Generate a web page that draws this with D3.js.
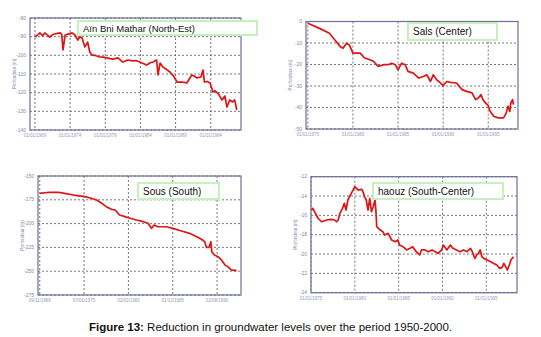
<!DOCTYPE html>
<html>
<head>
<meta charset="utf-8">
<script src="https://cdn.jsdelivr.net/npm/d3@7"></script>
<style>
  body { margin: 0; background: #fff; }
  svg { display: block; }
</style>
</head>
<body>
<script>
const W = 541, H = 337;

// --- Aïn Bni Mathar (North-Est) ---
const ainYears  = [1969.0, 1969.4, 1969.7, 1970.1, 1970.4, 1970.8, 1971.1, 1971.5, 1971.8, 1972.2, 1972.6, 1972.8, 1973.0, 1973.3, 1973.8, 1974.3, 1974.7, 1975.1, 1975.4, 1975.7, 1976.1, 1976.5, 1976.8, 1977.1, 1977.7, 1978.2, 1978.7, 1979.2, 1979.7, 1980.1, 1980.8, 1981.5, 1982.2, 1982.9, 1983.4, 1983.9, 1984.4, 1984.9, 1985.4, 1985.8, 1986.3, 1986.5, 1986.8, 1987.2, 1987.7, 1988.2, 1988.7, 1989.2, 1989.9, 1990.6, 1991.3, 1991.7, 1992.0, 1992.6, 1992.9, 1993.1, 1993.5, 1993.9, 1994.3, 1994.6, 1995.0, 1995.3, 1995.6, 1996.0, 1996.3, 1996.7, 1997.1, 1997.4, 1997.7];
const ainLevels = [-90.2, -89.0, -88.0, -89.5, -88.0, -89.2, -90.2, -89.0, -88.6, -88.2, -88.0, -88.6, -97.1, -89.1, -88.5, -88.0, -89.1, -91.8, -90.0, -90.7, -95.5, -92.9, -98.2, -99.8, -100.2, -100.9, -101.0, -101.4, -101.8, -102.0, -101.4, -103.6, -102.5, -103.0, -102.8, -103.6, -104.4, -105.2, -104.0, -103.6, -102.5, -110.5, -104.1, -106.3, -107.5, -108.9, -111.0, -114.3, -114.3, -114.8, -110.5, -111.2, -112.1, -111.6, -107.9, -114.3, -114.0, -114.8, -119.6, -119.0, -120.2, -122.0, -123.9, -121.8, -127.7, -123.9, -125.0, -123.9, -129.3];
const ainYTicks = [-80, -90, -100, -110, -120, -130, -140];
const ainXTicks = [1969, 1974, 1979, 1984, 1989, 1994];
const ainXLabels = ["01/01/1969", "01/01/1974", "01/01/1979", "01/01/1984", "01/01/1989", "01/01/1994"];

// --- Sals (Center) ---
const saisYears  = [1975.0, 1976.3, 1977.4, 1978.0, 1978.6, 1978.9, 1979.3, 1979.6, 1980.0, 1980.8, 1981.3, 1981.9, 1982.3, 1982.8, 1983.4, 1983.9, 1984.3, 1984.7, 1985.0, 1985.4, 1985.8, 1986.1, 1986.7, 1987.3, 1987.8, 1988.2, 1988.6, 1988.9, 1989.3, 1989.7, 1990.0, 1990.4, 1990.8, 1991.5, 1992.1, 1992.6, 1993.2, 1993.6, 1993.9, 1994.2, 1994.4, 1994.7, 1995.0, 1995.2, 1995.6, 1996.1, 1996.7, 1997.0, 1997.2, 1997.4, 1997.5, 1997.7, 1997.8];
const saisLevels = [-0.8, -3.2, -5.5, -8.6, -11.7, -12.4, -10.1, -10.9, -14.7, -14.7, -17.0, -17.8, -18.6, -20.9, -20.1, -20.1, -19.4, -20.1, -22.5, -19.4, -20.1, -23.2, -24.0, -26.3, -25.6, -24.8, -27.9, -24.8, -27.1, -28.6, -29.9, -27.9, -28.3, -28.6, -31.7, -32.5, -33.2, -36.3, -35.6, -34.0, -36.3, -37.9, -39.1, -41.8, -44.1, -44.8, -44.8, -42.5, -39.4, -41.8, -37.9, -36.3, -38.7];
const saisYTicks = [0, -10, -20, -30, -40, -50];
const saisXTicks = [1975, 1980, 1985, 1990, 1995];
const saisXLabels = ["01/01/1975", "01/01/1980", "01/01/1985", "01/01/1990", "01/01/1995"];

// --- Sous (South) ---
const sousYears  = [1970.0, 1971.1, 1972.1, 1972.8, 1973.8, 1975.1, 1975.8, 1976.4, 1977.0, 1977.5, 1978.1, 1978.5, 1979.0, 1979.6, 1980.2, 1980.9, 1981.7, 1982.2, 1982.6, 1982.9, 1983.3, 1984.3, 1985.0, 1986.0, 1986.9, 1987.7, 1988.2, 1988.6, 1988.8, 1989.1, 1989.3, 1989.4, 1989.7, 1990.1, 1990.5, 1990.9, 1991.2, 1991.6, 1992.2];
const sousLevels = [-168.2, -167.1, -167.1, -168.2, -170.0, -171.7, -173.4, -175.2, -178.7, -182.2, -185.0, -185.7, -191.0, -192.7, -194.4, -196.2, -198.0, -199.7, -205.0, -201.5, -203.3, -203.3, -205.0, -207.8, -210.2, -213.8, -216.2, -219.0, -224.9, -224.9, -219.0, -229.5, -233.0, -234.8, -238.2, -243.5, -245.2, -248.7, -249.4];
const sousYTicks = [-150, -175, -200, -225, -250, -275];
const sousXTicks = [1970, 1975, 1980, 1985, 1990];
const sousXLabels = ["09/11/1969", "07/01/1975", "02/03/1980", "01/12/1985", "22/08/1990"];

// --- haouz (South-Center) ---
const haouzYears  = [1975.05, 1975.2, 1975.4, 1975.8, 1976.2, 1976.8, 1977.3, 1977.7, 1977.9, 1978.1, 1978.3, 1978.6, 1978.8, 1979.0, 1979.2, 1979.6, 1980.0, 1980.4, 1980.8, 1981.0, 1981.1, 1981.3, 1981.5, 1981.7, 1981.9, 1982.1, 1982.3, 1982.4, 1982.5, 1982.9, 1983.2, 1983.4, 1983.8, 1984.2, 1984.6, 1984.9, 1985.1, 1985.5, 1985.9, 1986.3, 1986.6, 1987.0, 1987.4, 1987.6, 1988.0, 1988.4, 1988.8, 1989.2, 1989.5, 1989.9, 1990.1, 1990.5, 1990.9, 1991.2, 1991.6, 1992.0, 1992.4, 1992.8, 1993.2, 1993.4, 1993.7, 1993.9, 1994.1, 1994.3, 1994.5, 1994.7, 1995.1, 1995.5, 1995.8, 1996.2, 1996.5, 1996.8, 1997.0, 1997.2, 1997.4, 1997.7, 1997.8, 1998.1];
const haouzLevels = [-15.45, -15.27, -15.62, -16.30, -16.66, -16.48, -16.41, -16.48, -16.66, -16.48, -15.79, -15.27, -14.75, -15.45, -14.41, -13.72, -13.03, -13.38, -13.31, -13.72, -14.07, -14.41, -15.45, -14.24, -15.62, -15.10, -14.41, -15.45, -17.17, -17.52, -17.69, -18.03, -17.86, -18.55, -18.72, -18.55, -19.07, -19.24, -19.58, -19.41, -19.24, -19.76, -20.10, -19.58, -19.58, -19.76, -19.58, -19.76, -19.93, -19.58, -19.07, -19.58, -19.07, -19.41, -19.58, -19.76, -19.58, -19.76, -19.41, -19.76, -20.45, -20.10, -19.93, -19.58, -20.28, -20.45, -20.62, -20.79, -20.96, -21.14, -21.48, -21.38, -20.96, -21.31, -21.65, -20.96, -20.62, -20.28];
const haouzYTicks = [-12, -14, -16, -18, -20, -22, -24];
const haouzXTicks = [1975, 1980, 1985, 1990, 1995];
const haouzXLabels = ["01/01/1975", "01/01/1980", "01/01/1985", "01/01/1990", "01/01/1995"];

const caption = "Reduction in groundwater levels over the period 1950-2000.";

// panel frames (plot box in page pixels) and legend boxes
const panels = [
  { title: "Aïn Bni Mathar (North-Est)", years: ainYears, levels: ainLevels, yTicks: ainYTicks, xTicks: ainXTicks, xLabels: ainXLabels,
    x0: 30, x1: 241, y0: 18, y1: 130, xDom: [1968.3, 1998.3],
    legend: { x: 78, y: 21, w: 179, h: 14, fs: 9.5 } },
  { title: "Sals (Center)", years: saisYears, levels: saisLevels, yTicks: saisYTicks, xTicks: saisXTicks, xLabels: saisXLabels,
    x0: 306, x1: 518, y0: 21.5, y1: 129, xDom: [1974.8, 1998.3],
    legend: { x: 408, y: 23, w: 89, h: 17, fs: 10 } },
  { title: "Sous (South)", years: sousYears, levels: sousLevels, yTicks: sousYTicks, xTicks: sousXTicks, xLabels: sousXLabels,
    x0: 38, x1: 241, y0: 176, y1: 295, xDom: [1969.8, 1992.7],
    legend: { x: 138, y: 183, w: 81, h: 16, fs: 10 } },
  { title: "haouz (South-Center)", years: haouzYears, levels: haouzLevels, yTicks: haouzYTicks, xTicks: haouzXTicks, xLabels: haouzXLabels,
    x0: 311, x1: 517, y0: 176.7, y1: 292.7, xDom: [1975.0, 1998.5],
    legend: { x: 373, y: 183, w: 130, h: 16, fs: 10 } }
];

const svg = d3.select("body").append("svg")
  .attr("width", W)
  .attr("height", H)
  .style("font-family", "'Liberation Sans', Arial, sans-serif");

svg.append("rect").attr("width", W).attr("height", H).attr("fill", "#fff");

panels.forEach(p => {
  const yExt = d3.extent(p.yTicks);
  const x = d3.scaleLinear().domain(p.xDom).range([p.x0, p.x1]);
  const y = d3.scaleLinear().domain(yExt).range([p.y1, p.y0]);
  const g = svg.append("g");

  // dashed grid
  g.selectAll(".hgrid").data(p.yTicks).join("line")
    .attr("x1", p.x0).attr("x2", p.x1)
    .attr("y1", d => y(d)).attr("y2", d => y(d))
    .attr("stroke", "#555").attr("stroke-width", 0.8)
    .attr("stroke-dasharray", "2,2");
  g.selectAll(".vgrid").data(p.xTicks).join("line")
    .attr("x1", d => x(d)).attr("x2", d => x(d))
    .attr("y1", p.y0).attr("y2", p.y1)
    .attr("stroke", "#555").attr("stroke-width", 0.8)
    .attr("stroke-dasharray", "2,2");

  // frame
  g.append("rect")
    .attr("x", p.x0).attr("y", p.y0)
    .attr("width", p.x1 - p.x0).attr("height", p.y1 - p.y0)
    .attr("fill", "none").attr("stroke", "#6e6e98").attr("stroke-width", 1.2);

  // tick labels
  g.selectAll(".ylab").data(p.yTicks).join("text")
    .attr("x", p.x0 - 4).attr("y", d => y(d) + 1.5)
    .attr("text-anchor", "end")
    .attr("font-size", 5).attr("fill", "#8686a8")
    .text(d => d);
  g.selectAll(".xlab").data(p.xTicks).join("text")
    .attr("x", (d, i) => x(d)).attr("y", p.y1 + 7)
    .attr("text-anchor", "middle")
    .attr("font-size", 4.5).attr("fill", "#9a9abb")
    .text((d, i) => p.xLabels[i]);

  // y axis title
  const cy = (p.y0 + p.y1) / 2;
  g.append("text")
    .attr("transform", `translate(${p.x0 - 14},${cy}) rotate(-90)`)
    .attr("text-anchor", "middle")
    .attr("font-size", 4.5).attr("fill", "#8a8ab0")
    .text("Profondeur (m)");

  // series
  const line = d3.line()
    .x((d, i) => x(p.years[i]))
    .y(d => y(d));
  g.append("path")
    .datum(p.levels)
    .attr("d", line)
    .attr("fill", "none")
    .attr("stroke", "#e01414")
    .attr("stroke-width", 1.7)
    .attr("stroke-linejoin", "round");

  // legend box
  const L = p.legend;
  g.append("rect")
    .attr("x", L.x).attr("y", L.y).attr("width", L.w).attr("height", L.h)
    .attr("fill", "#fff").attr("stroke", "#c4f2bc").attr("stroke-width", 2);
  g.append("text")
    .attr("x", L.x + 5).attr("y", L.y + L.h / 2 + 3.5)
    .attr("font-size", L.fs).attr("fill", "#111")
    .text(p.title);
});

// caption
const cap = svg.append("text")
  .attr("x", W / 2).attr("y", 331)
  .attr("text-anchor", "middle")
  .attr("font-size", 11.5).attr("fill", "#111");
cap.append("tspan").attr("font-weight", "bold").text("Figure 13:");
cap.append("tspan").text(" " + caption);
</script>
</body>
</html>
